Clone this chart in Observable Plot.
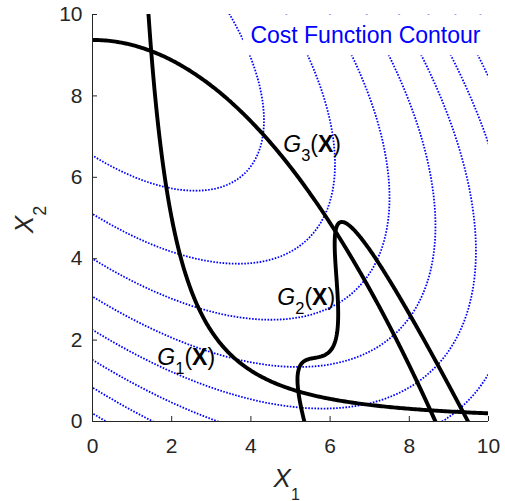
<!DOCTYPE html>
<html>
<head>
<meta charset="utf-8">
<script src="https://cdn.jsdelivr.net/npm/d3@7"></script>
<script src="https://cdn.jsdelivr.net/npm/@observablehq/plot@0.6"></script>
<style>
  html, body { margin: 0; padding: 0; background: #fff; }
  #chart svg { display: block; }
</style>
</head>
<body>
<div id="chart"></div>
<script>
// Axis ticks
const xTicks = [0, 2, 4, 6, 8, 10];
const yTicks = [0, 2, 4, 6, 8, 10];

// Cost function contour levels and the limit-state level of each constraint
const costLevels = [-4, -3.5, -3, -2.5, -2, -1.5, -1, -0.5];
const limitLevel = [0];

// Constraint labels: index, anchor position (design space units)
const labelIndex = ["1", "2", "3"];
const labelX = [1.65, 4.68, 4.83];
const labelY = [1.37, 2.85, 6.61];

const titleText = "Cost Function Contour";
const titleX = 4.0;
const titleY = 9.29;

// Cost function and constraint (limit-state) functions of X = (X1, X2)
const cost = (x1, x2) => -((x1 + x2 - 10) ** 2) / 30 - ((x1 - x2 + 10) ** 2) / 120;
const g1 = (x1, x2) => (x1 * x1 * x2) / 20 - 1;
const g2 = (x1, x2) => {
  const y = 0.9063 * x1 + 0.4226 * x2 - 6;
  const z = 0.4226 * x1 - 0.9063 * x2;
  return -1 + y * y + y ** 3 - 0.6 * y ** 4 + z;
};
const g3 = (x1, x2) => 80 / (x1 * x1 + 8 * x2 + 5) - 1;
const constraints = [g1, g2, g3];

// Sample slightly beyond the frame so contour rings close outside it
const extent = {x1: -0.5, x2: 10.5, y1: -0.5, y2: 10.5};
const ink = "#262626";
const font = "'Liberation Sans', Arial, Helvetica, sans-serif";

const chart = Plot.plot({
  width: 505,
  height: 501,
  marginLeft: 92,
  marginRight: 17,
  marginTop: 14,
  marginBottom: 80,
  x: {domain: [0, 10]},
  y: {domain: [0, 10]},
  style: {fontFamily: font, fontSize: "21px", color: ink, background: "#fff", overflow: "visible"},
  marks: [
    Plot.contour({
      ...extent,
      value: cost,
      thresholds: costLevels,
      fill: "none",
      stroke: "#0000ff",
      strokeWidth: 1.8,
      strokeDasharray: "1.6,1.5",
      clip: true
    }),
    ...constraints.map((g) =>
      Plot.contour({
        ...extent,
        value: g,
        thresholds: limitLevel,
        fill: "none",
        stroke: "#000",
        strokeWidth: 3.9,
        strokeLinejoin: "round",
        clip: true
      })
    ),
    Plot.ruleX([0], {stroke: ink, strokeWidth: 1}),
    Plot.ruleY([0], {stroke: ink, strokeWidth: 1}),
    Plot.axisX({ticks: xTicks, tickSize: -5, tickPadding: 22, label: null, stroke: ink, fill: ink}),
    Plot.axisY({ticks: yTicks, tickSize: -5, tickPadding: 15, label: null, stroke: ink, fill: ink})
  ]
});

document.getElementById("chart").appendChild(chart);

const sx = chart.scale("x");
const sy = chart.scale("y");
const svg = d3.select(chart);

// Text with italic symbol and lowered subscript
function addLabel(g, parts, anchor = "start", color = ink) {
  const t = g.append("text")
    .attr("font-family", font)
    .attr("fill", color)
    .attr("text-anchor", anchor);
  for (const p of parts) {
    const s = t.append("tspan").text(p.text).attr("font-size", p.size);
    if (p.italic) s.attr("font-style", "italic");
    if (p.bold) s.attr("font-weight", "bold");
    if (p.dy) s.attr("dy", p.dy);
  }
  return t;
}

// Constraint labels G_i(X)
labelIndex.forEach((k, i) => {
  const g = svg.append("g").attr("transform", `translate(${sx.apply(labelX[i])},${sy.apply(labelY[i])})`);
  addLabel(g, [
    {text: "G", size: 23, italic: true},
    {text: k, size: 16.5, dy: 9},
    {text: "(", size: 23, dy: -9},
    {text: "X", size: 23, bold: true},
    {text: ")", size: 23}
  ], "start", "#000");
});

// Axis titles
const xl = svg.append("g").attr("transform", `translate(${sx.apply(5) - 3.3},487)`);
addLabel(xl, [
  {text: "X", size: 26, italic: true},
  {text: "1", size: 16, dy: 12.5}
], "middle");

const yl = svg.append("g").attr("transform", `translate(33,${sy.apply(5) + 2}) rotate(-90)`);
addLabel(yl, [
  {text: "X", size: 26, italic: true},
  {text: "2", size: 18, dy: 13}
], "middle");

// Contour title on a white box
const tg = svg.append("g");
const box = tg.append("rect").attr("fill", "#fff");
const tt = tg.append("text")
  .attr("x", sx.apply(titleX))
  .attr("y", sy.apply(titleY))
  .attr("font-family", font)
  .attr("font-size", 23)
  .attr("text-anchor", "start")
  .attr("fill", "#0000ff")
  .text(titleText);
const bb = tt.node().getBBox();
const pad = 7.5;
box.attr("x", bb.x - pad).attr("y", bb.y - pad)
   .attr("width", bb.width + 2 * pad).attr("height", bb.height + 2 * pad);
</script>
</body>
</html>
